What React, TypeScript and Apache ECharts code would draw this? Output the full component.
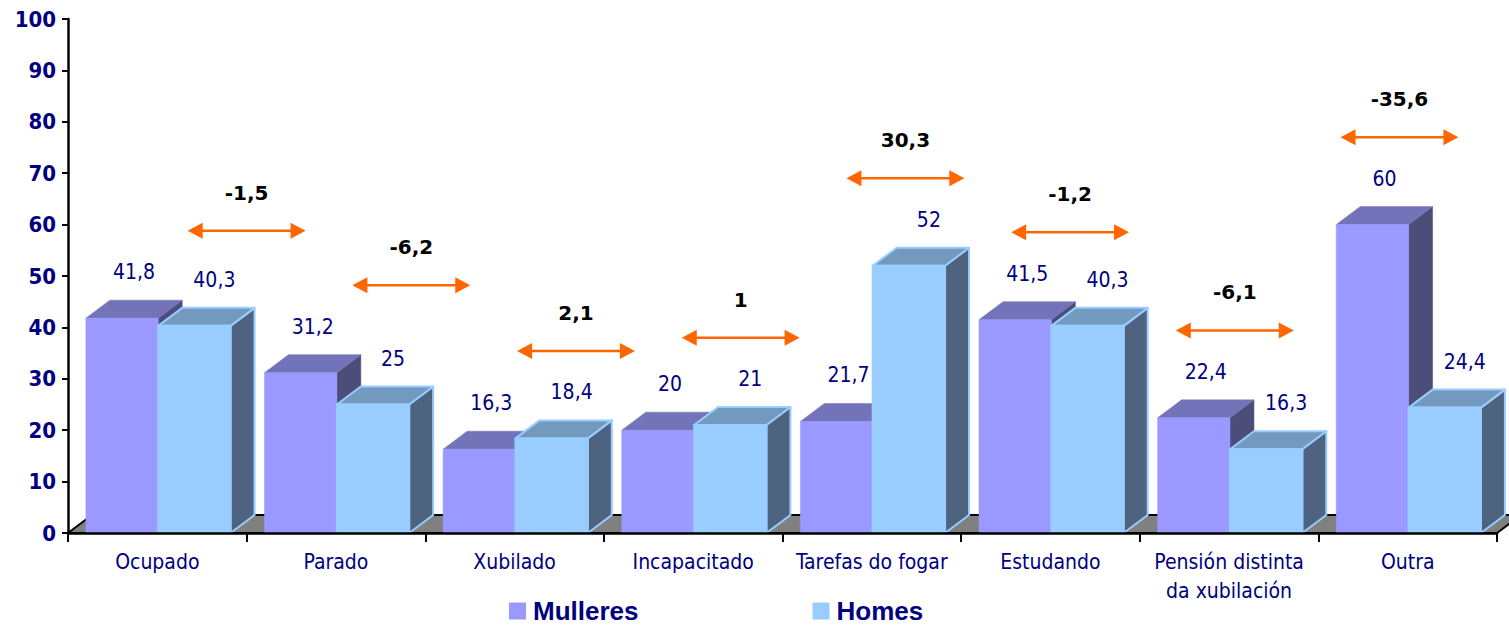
import React, { useEffect, useRef } from "react";
import * as echarts from "echarts";

const categories = [
  "Ocupado",
  "Parado",
  "Xubilado",
  "Incapacitado",
  "Tarefas do fogar",
  "Estudando",
  "Pensión distinta\nda xubilación",
  "Outra",
];
const mulleres = [41.8, 31.2, 16.3, 20, 21.7, 41.5, 22.4, 60];
const homes = [40.3, 25, 18.4, 21, 52, 40.3, 16.3, 24.4];
const diferenzas = [-1.5, -6.2, 2.1, 1, 30.3, -1.2, -6.1, -35.6];
const seriesNames = ["Mulleres", "Homes"];

const FONT = '"DejaVu Sans Condensed", "DejaVu Sans", sans-serif';
const FONT_WIDE = '"DejaVu Sans", sans-serif';
const NAVY = "#000080";
const DX = 24;
const DY = 18;

const fmt = (v: number) => String(v).replace(".", ",");

const makeBar =
  (slot: number, front: string, top: string, side: string, stroke: string | null) =>
  (params: any, api: any) => {
    const i = api.value(0);
    const v = api.value(1);
    const base = api.coord([i, 0]);
    const yb = base[1];
    const yt = api.coord([i, v])[1];
    const bw = api.size([1, 0])[0];
    const w = bw * 0.405;
    const x0 = base[0] - bw / 2 + bw * 0.1 + slot * w;
    const x1 = x0 + w;
    const st = (fill: string) =>
      stroke
        ? { fill, stroke, lineWidth: 2, lineJoin: "round" }
        : { fill, stroke: fill, lineWidth: 0.5 };
    return {
      type: "group",
      children: [
        {
          type: "polygon",
          shape: { points: [[x1, yt], [x1 + DX, yt - DY], [x1 + DX, yb - DY], [x1, yb]] },
          style: st(side),
        },
        {
          type: "polygon",
          shape: { points: [[x0, yt], [x0 + DX, yt - DY], [x1 + DX, yt - DY], [x1, yt]] },
          style: st(top),
        },
        {
          type: "rect",
          shape: { x: x0, y: yt, width: w, height: yb - yt },
          style: st(front),
        },
        {
          type: "text",
          x: x0 + w / 2 + (slot ? 20 : 12),
          y: yt - DY - 28,
          style: {
            text: fmt(v),
            fill: NAVY,
            fontFamily: FONT,
            fontSize: 21,
            align: "center",
            verticalAlign: "middle",
          },
        },
      ],
    };
  };

const renderFloor = (params: any) => {
  const cs = params.coordSys;
  const x = cs.x;
  const yb = cs.y + cs.height;
  const w = cs.width;
  return {
    type: "polygon",
    shape: { points: [[x, yb], [x + DX, yb - DY], [x + w + DX, yb - DY], [x + w, yb]] },
    style: { fill: "#808080", stroke: "#000", lineWidth: 2 },
  };
};

const renderArrow = (params: any, api: any) => {
  const i = api.value(0);
  const top = api.value(1);
  const d = api.value(2);
  const bw = api.size([1, 0])[0];
  const p = api.coord([i, top + 17]);
  // the annotations sit on a slightly narrower pitch than the categories
  const cx = p[0] + bw * (0.5 - 0.078 * i);
  const y = p[1];
  const half = bw * 0.33;
  const head = 15;
  const hh = 8;
  const orange = "#ff6600";
  return {
    type: "group",
    children: [
      {
        type: "line",
        shape: { x1: cx - half + head - 2, y1: y, x2: cx + half - head + 2, y2: y },
        style: { stroke: orange, lineWidth: 2.5 },
      },
      {
        type: "polygon",
        shape: { points: [[cx - half, y], [cx - half + head, y - hh], [cx - half + head, y + hh]] },
        style: { fill: orange },
      },
      {
        type: "polygon",
        shape: { points: [[cx + half, y], [cx + half - head, y - hh], [cx + half - head, y + hh]] },
        style: { fill: orange },
      },
      {
        type: "text",
        x: cx,
        y: y - 38,
        style: {
          text: fmt(d),
          fill: "#000",
          fontFamily: FONT_WIDE,
          fontWeight: "bold",
          fontSize: 20,
          align: "center",
          verticalAlign: "middle",
        },
      },
    ],
  };
};

export default function App() {
  const ref = useRef<HTMLDivElement>(null);
  useEffect(() => {
    document.body.style.margin = "0";
    if (!ref.current) return;
    const chart = echarts.init(ref.current, null, { renderer: "svg" });
    chart.setOption({
      animation: false,
      backgroundColor: "#ffffff",
      grid: { left: 68, right: 12, top: 19, bottom: 94, containLabel: false },
      legend: {
        data: seriesNames,
        left: 509,
        top: 598,
        padding: 0,
        icon: "rect",
        itemWidth: 17,
        itemHeight: 17,
        itemGap: 174,
        textStyle: {
          fontFamily: '"Liberation Sans", Arial, sans-serif',
          fontWeight: "bold",
          fontSize: 26,
          lineHeight: 26,
          color: NAVY,
          padding: [0, 0, 0, 2],
        },
      },
      xAxis: {
        type: "category",
        data: categories,
        z: 5,
        boundaryGap: true,
        axisLine: { lineStyle: { color: "#000", width: 2.5 } },
        axisTick: { show: true, length: 9, lineStyle: { color: "#000", width: 2 } },
        axisLabel: {
          interval: 0,
          margin: 14,
          color: NAVY,
          fontFamily: FONT,
          fontSize: 21,
          lineHeight: 29,
        },
      },
      yAxis: {
        type: "value",
        min: 0,
        max: 100,
        interval: 10,
        z: 5,
        splitLine: { show: false },
        axisLine: { show: true, lineStyle: { color: "#000", width: 2.5 } },
        axisTick: { show: true, length: 6, lineStyle: { color: "#000", width: 2 } },
        axisLabel: {
          margin: 12,
          color: NAVY,
          fontFamily: FONT,
          fontWeight: "bold",
          fontSize: 22,
        },
      },
      series: [
        {
          type: "custom",
          name: "floor",
          silent: true,
          z: 1,
          data: [[0, 0]],
          renderItem: renderFloor,
        },
        {
          type: "custom",
          name: seriesNames[0],
          z: 2,
          itemStyle: { color: "#9999ff" },
          encode: { x: 0, y: 1 },
          data: mulleres.map((v, i) => [i, v]),
          renderItem: makeBar(0, "#9999ff", "#7373b9", "#4d4d7a", null),
        },
        {
          type: "custom",
          name: seriesNames[1],
          z: 3,
          itemStyle: { color: "#99ccff" },
          encode: { x: 0, y: 1 },
          data: homes.map((v, i) => [i, v]),
          renderItem: makeBar(1, "#99ccff", "#7399bf", "#4d6380", "#99ccff"),
        },
        {
          type: "custom",
          name: "diferenza",
          silent: true,
          z: 4,
          encode: { x: 0, y: 1 },
          data: diferenzas.map((d, i) => [i, Math.max(mulleres[i], homes[i]), d]),
          renderItem: renderArrow,
        },
      ],
    });
    return () => chart.dispose();
  }, []);
  return <div ref={ref} style={{ width: 1509, height: 627 }} />;
}
